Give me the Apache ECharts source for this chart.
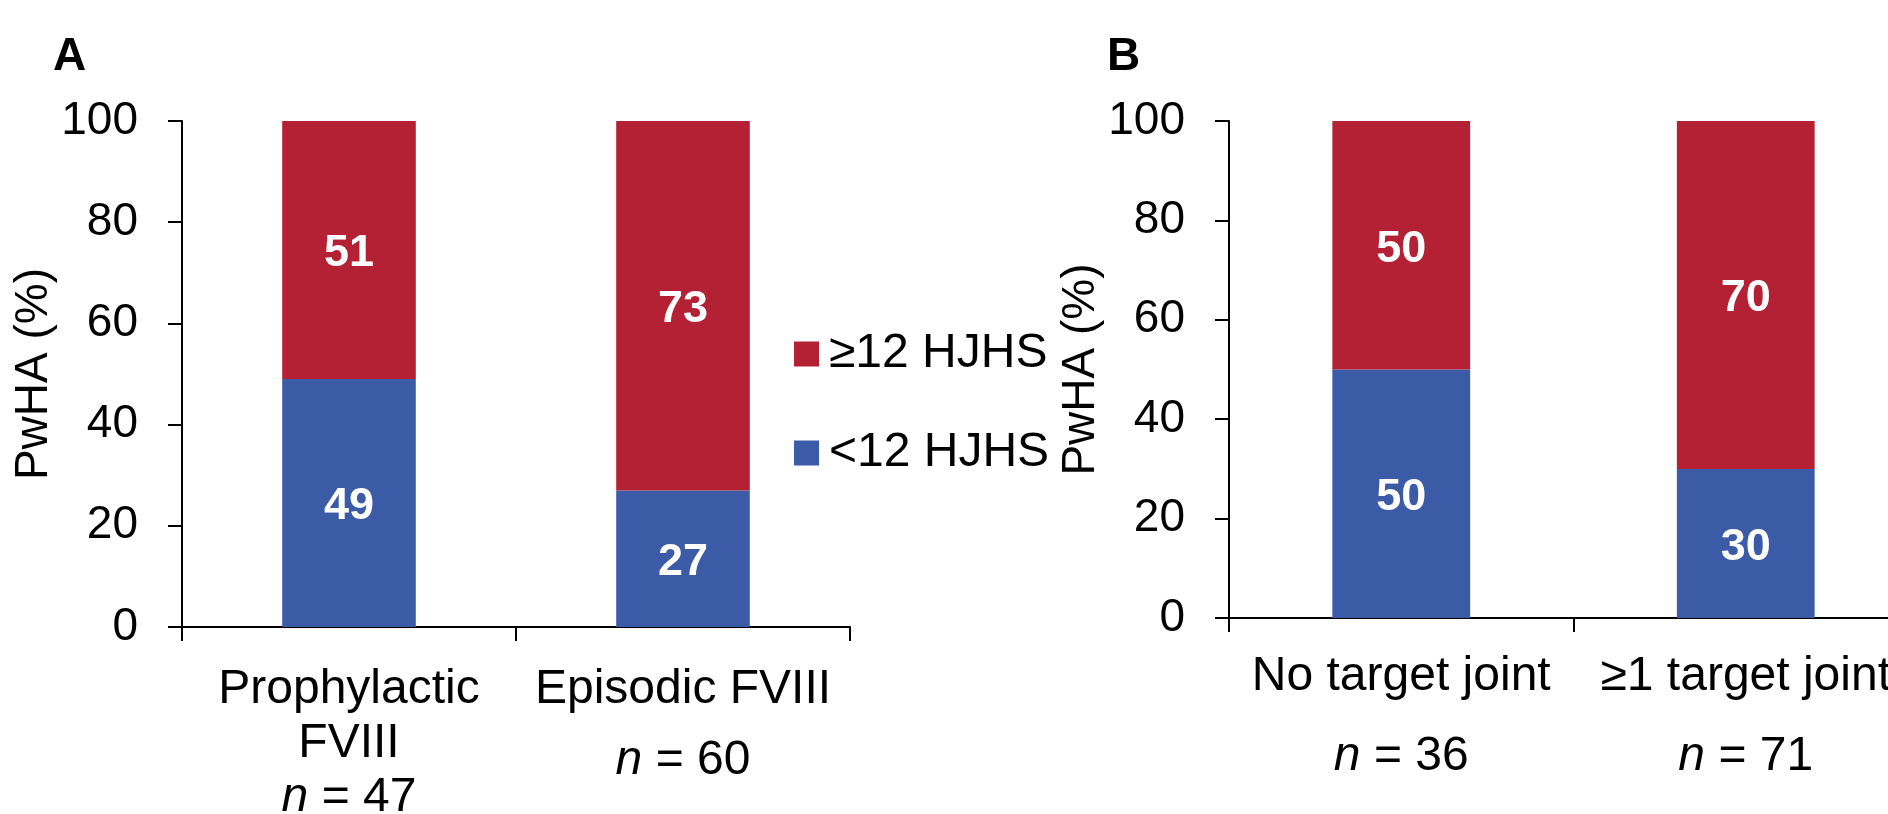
<!DOCTYPE html>
<html>
<head>
<meta charset="utf-8">
<title>PwHA by HJHS</title>
<script src="https://cdn.jsdelivr.net/npm/echarts@6/dist/echarts.min.js"></script>
<style>
  html, body { margin: 0; padding: 0; background: #ffffff; }
  #chart { width: 1888px; height: 814px; }
</style>
</head>
<body>
<div id="chart"></div>
<script>
// Panel A: by FVIII regimen
const panelACategories = ['Prophylactic\nFVIII', 'Episodic FVIII'];
const panelASizes = [47, 60];
const panelALow = [49, 27];     // <12 HJHS (%)
const panelAHigh = [51, 73];    // ≥12 HJHS (%)

// Panel B: by target joint status
const panelBCategories = ['No target joint', '≥1 target joint'];
const panelBSizes = [36, 71];
const panelBLow = [50, 30];
const panelBHigh = [50, 70];

const seriesNames = ['≥12 HJHS', '<12 HJHS'];
const yMin = 0, yMax = 100, yStep = 20;

const RED = '#B42034';
const BLUE = '#3B5BA7';
const FONT = 'Liberation Sans, Arial, Helvetica, sans-serif';

// Category name (one or two lines) followed by the group size line
function categoryLabel(sizes, categories) {
  return function (value) {
    const i = categories.indexOf(value);
    const lines = value.split('\n');
    const body = lines.map(l => '{c|' + l + '}').join('\n');
    const tag = lines.length > 1 ? 'a' : 'b';
    return body + '\n{ni' + tag + '|n}{nv' + tag + '| = ' + sizes[i] + '}';
  };
}

function richStyles(singleGap) {
  const base = { fontSize: 48, fontFamily: FONT, color: '#000', align: 'center' };
  return {
    c: Object.assign({}, base, { lineHeight: 54 }),
    nia: Object.assign({}, base, { lineHeight: 54, fontStyle: 'italic' }),
    nva: Object.assign({}, base, { lineHeight: 54 }),
    nib: Object.assign({}, base, { lineHeight: singleGap, fontStyle: 'italic' }),
    nvb: Object.assign({}, base, { lineHeight: singleGap })
  };
}

function xAxis(gridIndex, categories, sizes, margin, singleGap) {
  return {
    type: 'category',
    gridIndex: gridIndex,
    data: categories,
    axisLine: { show: true, lineStyle: { color: '#000', width: 2 } },
    axisTick: { show: true, length: 14, lineStyle: { color: '#000', width: 2 } },
    axisLabel: {
      interval: 0,
      margin: margin,
      hideOverlap: false,
      formatter: categoryLabel(sizes, categories),
      rich: richStyles(singleGap)
    },
    splitLine: { show: false }
  };
}

function yAxis(gridIndex, nameGap) {
  return {
    type: 'value',
    gridIndex: gridIndex,
    min: yMin, max: yMax, interval: yStep,
    name: 'PwHA (%)',
    nameLocation: 'middle',
    nameGap: nameGap,
    nameTextStyle: { fontSize: 46, fontFamily: FONT, color: '#000' },
    axisLine: { show: true, lineStyle: { color: '#000', width: 2 } },
    axisTick: { show: true, length: 14, lineStyle: { color: '#000', width: 2 } },
    axisLabel: { fontSize: 46, fontFamily: FONT, color: '#000', margin: 44 },
    splitLine: { show: false }
  };
}

const valueLabel = {
  show: true,
  position: 'inside',
  offset: [0, 4],
  color: '#fff',
  fontSize: 45,
  fontWeight: 'bold',
  fontFamily: FONT
};

function bar(name, data, color, axisIdx, stack) {
  return {
    name: name,
    type: 'bar',
    stack: stack,
    xAxisIndex: axisIdx,
    yAxisIndex: axisIdx,
    barWidth: '40%',
    data: data,
    itemStyle: { color: color },
    label: valueLabel
  };
}

const chart = echarts.init(document.getElementById('chart'), null, { renderer: 'canvas' });

chart.setOption({
  backgroundColor: '#ffffff',
  animation: false,
  textStyle: { fontFamily: FONT },
  grid: [
    { left: 182, top: 121, width: 668, height: 506, outerBoundsMode: 'none' },
    { left: 1229, top: 121, width: 689, height: 497, outerBoundsMode: 'none' }
  ],
  xAxis: [
    xAxis(0, panelACategories, panelASizes, 36, 88),
    xAxis(1, panelBCategories, panelBSizes, 32, 106)
  ],
  yAxis: [
    yAxis(0, 111),
    yAxis(1, 98)
  ],
  legend: {
    orient: 'vertical',
    left: 789,
    top: 325,
    itemWidth: 25,
    itemHeight: 25,
    itemGap: 51,
    icon: 'rect',
    data: seriesNames,
    textStyle: { fontSize: 48, fontFamily: FONT, color: '#000', lineHeight: 46, padding: [0, 0, 0, 5] }
  },
  graphic: [
    { type: 'text', left: 53, top: 34, style: { text: 'A', font: 'bold 46px ' + FONT, fill: '#000' } },
    { type: 'text', left: 1107, top: 34, style: { text: 'B', font: 'bold 46px ' + FONT, fill: '#000' } }
  ],
  series: [
    bar(seriesNames[1], panelALow, BLUE, 0, 'a'),
    bar(seriesNames[0], panelAHigh, RED, 0, 'a'),
    bar(seriesNames[1], panelBLow, BLUE, 1, 'b'),
    bar(seriesNames[0], panelBHigh, RED, 1, 'b')
  ]
});
</script>
</body>
</html>
